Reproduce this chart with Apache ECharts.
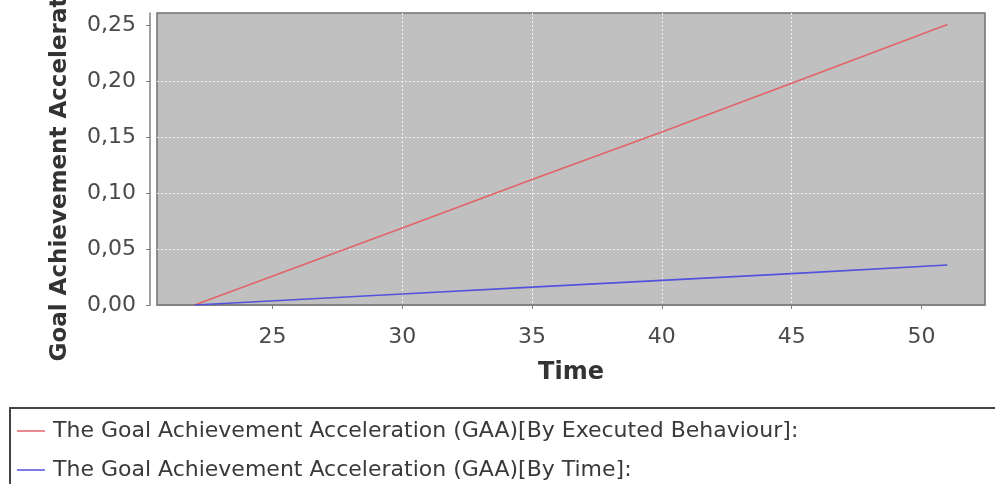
<!DOCTYPE html>
<html>
<head>
<meta charset="utf-8">
<script src="https://cdn.jsdelivr.net/npm/echarts@6/dist/echarts.min.js"></script>
<style>html,body{margin:0;padding:0;background:#fff;}#c{width:995px;height:484px;}</style>
</head>
<body>
<div id="c"></div>
<script>
var times = [22, 30, 35, 40, 45, 51];
var gaaByBehaviour = [0, 0.0688, 0.112, 0.1545, 0.198, 0.2505];
var gaaByTime = [0, 0.0098, 0.0160, 0.0220, 0.0280, 0.0357];
var seriesNames = [
  'The Goal Achievement Acceleration (GAA)[By Executed Behaviour]:',
  'The Goal Achievement Acceleration (GAA)[By Time]:'
];
var xTicks = [25, 30, 35, 40, 45, 50];
var yTicks = [0, 0.05, 0.10, 0.15, 0.20, 0.25];

function pairs(xs, ys) { return xs.map(function (x, i) { return [x, ys[i]]; }); }

var font = 'DejaVu Sans';
var chart = echarts.init(document.getElementById('c'), null, {renderer: 'canvas'});
chart.setOption({
  animation: false,
  backgroundColor: '#ffffff',
  textStyle: {fontFamily: font},
  grid: {
    left: 157, top: 13, width: 828, height: 292,
    show: true, backgroundColor: '#c0c0c0', borderColor: '#707070', borderWidth: 1.5,
    containLabel: false, outerBoundsMode: 'none'
  },
  xAxis: {
    type: 'value', min: 20.55, max: 52.45, offset: 8,
    name: 'Time', nameLocation: 'middle', nameGap: 48,
    nameTextStyle: {fontFamily: font, fontWeight: 'bold', fontSize: 24, color: '#333', verticalAlign: 'top'},
    axisLine: {show: true, lineStyle: {color: '#808080', width: 1.5}},
    axisTick: {show: true, length: 4, lineStyle: {color: '#808080'}, customValues: xTicks},
    axisLabel: {customValues: xTicks, margin: 13, fontSize: 22, color: '#4a4a4a', fontFamily: font},
    splitLine: {show: true, showMinLine: false, showMaxLine: false, lineStyle: {color: '#f4f4f4', type: [2, 2], width: 1}}
  },
  yAxis: {
    type: 'value', min: 0, max: 0.2607, offset: 7,
    name: 'Goal Achievement Acceleration', nameLocation: 'middle', nameGap: 78,
    nameTextStyle: {fontFamily: font, fontWeight: 'bold', fontSize: 23, color: '#333'},
    axisLine: {show: true, lineStyle: {color: '#808080', width: 1.5}},
    axisTick: {show: true, length: 4, lineStyle: {color: '#808080'}, customValues: yTicks},
    axisLabel: {customValues: yTicks, margin: 14, fontSize: 22, color: '#4a4a4a', fontFamily: font,
      formatter: function (v) { return v.toFixed(2).replace('.', ','); }},
    splitLine: {show: true, showMinLine: false, showMaxLine: false, lineStyle: {color: '#f4f4f4', type: [2, 2], width: 1}}
  },
  legend: {
    orient: 'vertical', left: 17, top: 420, padding: 0,
    icon: 'rect', itemWidth: 28, itemHeight: 1.5, itemGap: 17,
    textStyle: {fontFamily: font, fontSize: 22, color: '#3a3a3a', padding: [0, 0, 0, 3]},
    data: seriesNames
  },
  graphic: [{
    type: 'rect', silent: true, z: -1,
    shape: {x: 10, y: 408, width: 1000, height: 100},
    style: {fill: 'none', stroke: '#444', lineWidth: 2}
  }],
  series: [
    {name: seriesNames[0], type: 'line', data: pairs(times, gaaByBehaviour), symbol: 'none',
      lineStyle: {color: '#e06468', width: 1.6}, itemStyle: {color: '#e06468'}},
    {name: seriesNames[1], type: 'line', data: pairs(times, gaaByTime), symbol: 'none',
      lineStyle: {color: '#5252dc', width: 1.6}, itemStyle: {color: '#5252dc'}}
  ]
});
</script>
</body>
</html>
